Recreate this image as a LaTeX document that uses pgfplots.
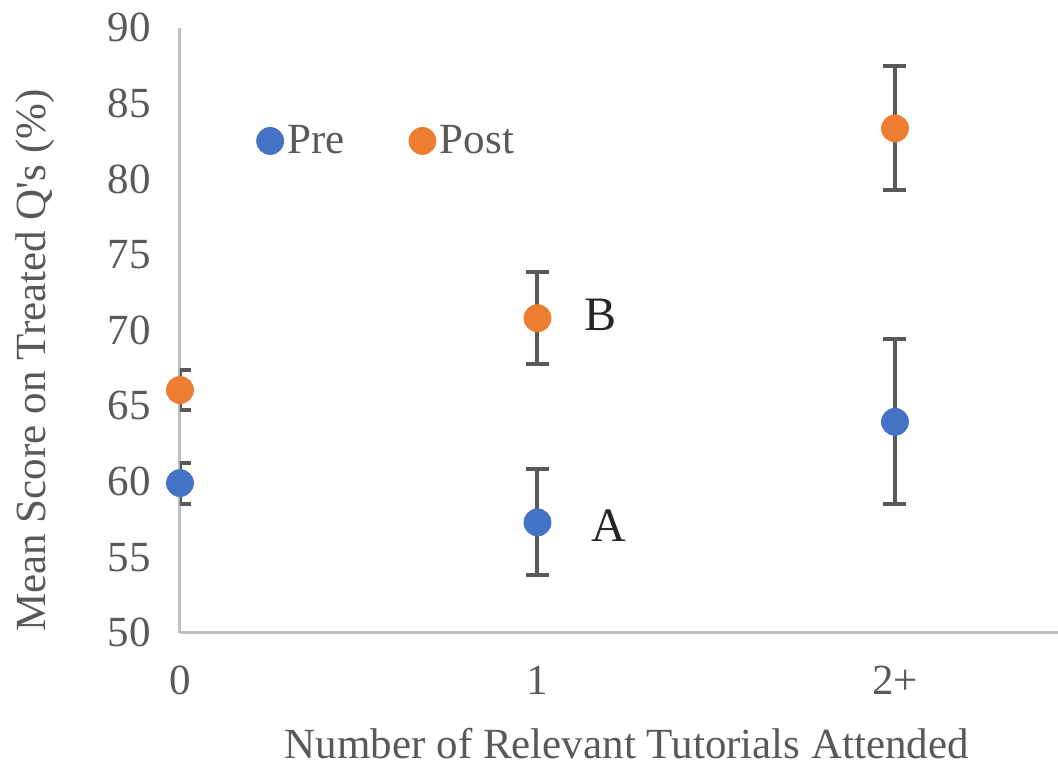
\documentclass[border=0pt]{standalone}
\usepackage{pgfplots}
\pgfplotsset{compat=1.18}
\usepackage{fontspec}
\setmainfont{Liberation Serif}
\newfontfamily\qfont{Liberation Serif}
\definecolor{txt}{HTML}{595959}
\definecolor{axl}{HTML}{BFBFBF}
\definecolor{cpre}{HTML}{4472C4}
\definecolor{cpost}{HTML}{ED7D31}
\begin{document}
\begin{tikzpicture}
\begin{axis}[
  scale only axis,
  width=439pt, height=302.5pt,
  xmin=0, xmax=2.456, ymin=50, ymax=90,
  axis x line=bottom, axis y line=left,
  axis line style={-, draw=axl, line width=1.5pt},
  xtick={0,1,2}, xticklabels={0,1,2+},
  ytick={50,55,...,90},
  major tick length=0pt,
  tick label style={font=\fontsize{21.5}{25}\selectfont, text=txt},
  /pgf/number format/assume math mode=true,
  yticklabel style={xshift=-11pt},
  xticklabel style={yshift=-13pt},
  xlabel={Number of Relevant Tutorials Attended},
  ylabel={Mean Score on Treated Q{\qfont\symbol{"27}}s (\%)},
  every axis x label/.style={at={(axis description cs:0.509,-0.183)}, anchor=center, font=\fontsize{21.5}{25}\selectfont, text=txt},
  every axis y label/.style={at={(axis description cs:-0.165,0.45)}, anchor=center, rotate=90, font=\fontsize{21.5}{25}\selectfont, text=txt},
  legend columns=2,
  legend style={draw=none, fill=none, at={(axis description cs:0.08,0.813)}, anchor=west,
    font=\fontsize{21.5}{25}\selectfont, text=txt,
    /tikz/every even column/.append style={column sep=30pt}},
  legend cell align=left,
  error bars/error bar style={line width=2pt, draw=txt},
  error bars/error mark options={line width=2pt, draw=txt, mark size=5.75pt, rotate=90},
]
\addplot[only marks, mark=*, mark size=6.75pt, color=cpre, mark options={fill=cpre, draw=cpre},
  error bars/.cd, y dir=both, y explicit]
  table[x=x, y=y, y error plus=ep, y error minus=em] {
x y ep em
0 59.9 1.3 1.4
1 57.3 3.5 3.5
2 63.95 5.45 5.45
};
\addlegendentry{Pre}
\addplot[only marks, mark=*, mark size=6.75pt, color=cpost, mark options={fill=cpost, draw=cpost},
  error bars/.cd, y dir=both, y explicit]
  table[x=x, y=y, y error plus=ep, y error minus=em] {
x y ep em
0 66.05 1.35 1.35
1 70.8 3.05 3.05
2 83.35 4.1 4.1
};
\addlegendentry{Post}
\node[font=\fontsize{24}{28}\selectfont, text=black!85] at (axis cs:1.2,57.1) {A};
\node[font=\fontsize{24}{28}\selectfont, text=black!85] at (axis cs:1.175,71.0) {B};
\coordinate (bl) at (axis description cs:-0.205,-0.22);
\coordinate (tr) at (axis description cs:1,1.046);
\end{axis}
\pgfresetboundingbox
\useasboundingbox (bl) rectangle (tr);
\end{tikzpicture}
\end{document}
